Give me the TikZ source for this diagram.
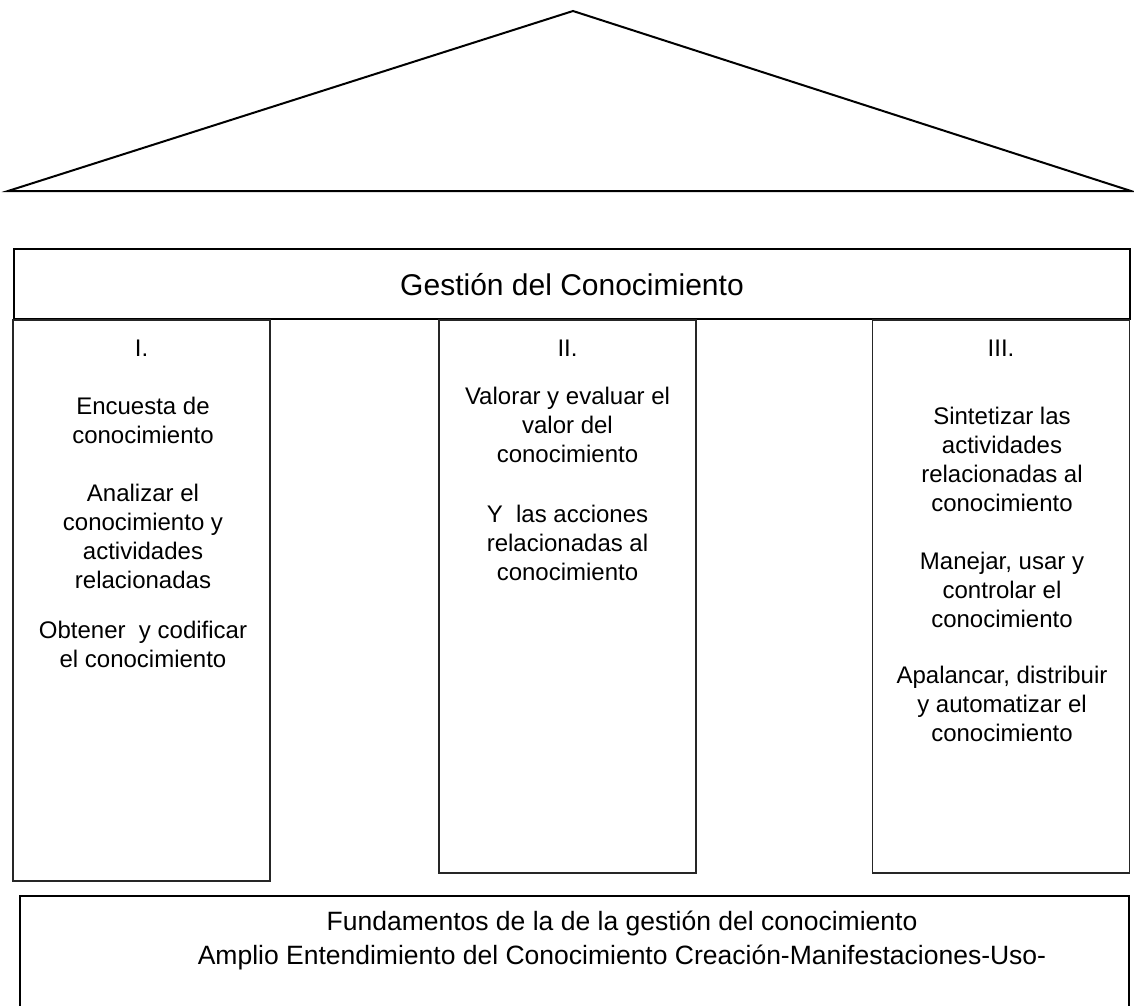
\documentclass[tikz,border=0pt]{standalone}
\usepackage{fontspec}
\setmainfont{Liberation Sans}
\begin{document}
\begin{tikzpicture}[x=1pt,y=-1pt,
  roof/.style={draw=black,line width=2pt,line join=miter},
  hdrbox/.style={draw=black,line width=2pt,minimum width=1116pt,minimum height=70pt,inner sep=0pt},
  colbox/.style={draw=black!85,line width=1.2pt,minimum width=257pt,inner sep=0pt},
  botbox/.style={draw=black,line width=2pt,minimum width=1109pt,minimum height=150pt,inner sep=0pt},
  numtxt/.style={font=\fontsize{24}{29}\selectfont,inner sep=0pt},
  coltxt/.style={font=\fontsize{24}{29}\selectfont,align=center,inner sep=0pt,anchor=north},
  hdrtxt/.style={font=\fontsize{30}{34}\selectfont,inner sep=0pt},
  bottxt/.style={font=\fontsize{26.5}{34}\selectfont,inner sep=0pt}
]
\useasboundingbox (0,0) rectangle (1134,1005);
\clip (0,0) rectangle (1134,1005);
% roof
\coordinate (apex) at (573,11);
\coordinate (bl) at (8,191);
\coordinate (br) at (1131,191);
\draw[roof] (apex) -- (br) -- (bl) -- cycle;
% header
\node[hdrbox] (hdr) at (572,284) {};
\node[hdrtxt] (hdrt) at (572,285) {Gestión del Conocimiento};
% columns
\node[colbox,minimum height=561pt] (c1) at (141.5,600.5) {};
\node[colbox,minimum height=553pt] (c2) at (567.5,596.5) {};
\node[colbox,minimum height=553pt] (c3) at (1001,596.5) {};
\node[numtxt] (n1) at (141.5,348) {I.};
\node[numtxt] (n2) at (567.5,348) {II.};
\node[numtxt] (n3) at (1001,348) {III.};
\node[coltxt] (t1) at (143,397) {Encuesta de\\conocimiento\\[29pt]Analizar el\\conocimiento y\\actividades\\relacionadas\\[21pt]Obtener~ y codificar\\el conocimiento};
\node[coltxt] (t2) at (567.5,387) {Valorar y evaluar el\\valor del\\conocimiento\\[31pt]Y~ las acciones\\relacionadas al\\conocimiento};
\node[coltxt] (t3) at (1002,407) {Sintetizar las\\actividades\\relacionadas al\\conocimiento\\[29pt]Manejar, usar y\\controlar el\\conocimiento\\[27pt]Apalancar, distribuir\\y automatizar el\\conocimiento};
% foundation
\node[botbox] (bot) at (574.5,971) {};
\node[bottxt] (b1) at (622,923) {Fundamentos de la de la gestión del conocimiento};
\node[bottxt] (b2) at (622,957) {Amplio Entendimiento del Conocimiento Creación-Manifestaciones-Uso-};
\end{tikzpicture}
\end{document}
